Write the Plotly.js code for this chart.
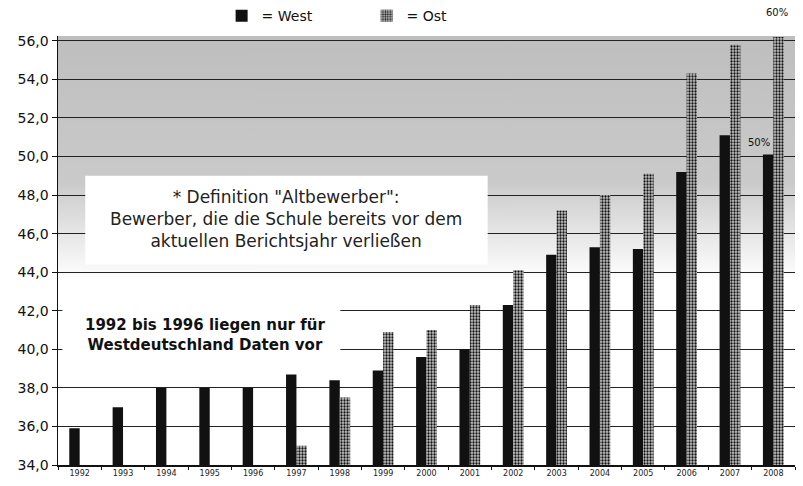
<!DOCTYPE html>
<html>
<head>
<meta charset="utf-8">
<script src="https://cdn.plot.ly/plotly-3.0.1.min.js"></script>
<style>html,body{margin:0;padding:0;background:#fff}#chart{width:803px;height:486px}</style>
</head>
<body>
<div id="chart"></div>
<script>
const years = ['1992','1993','1994','1995','1996','1997','1998','1999','2000','2001','2002','2003','2004','2005','2006','2007','2008'];
const westValues = [35.9, 37.0, 38.0, 38.0, 38.0, 38.7, 38.4, 38.9, 39.6, 40.0, 42.3, 44.9, 45.3, 45.2, 49.2, 51.1, 50.1];
const ostValues  = [null, null, null, null, null, 35.0, 37.5, 40.9, 41.0, 42.3, 44.1, 47.2, 48.0, 49.1, 54.3, 55.8, 56.2];
const yTickValues = [34, 36, 38, 40, 42, 44, 46, 48, 50, 52, 54, 56];
const yTickLabels = ['34,0','36,0','38,0','40,0','42,0','44,0','46,0','48,0','50,0','52,0','54,0','56,0'];
const seriesNames = ['= West', '= Ost'];
const definitionText = '* Definition "Altbewerber":<br>Bewerber, die die Schule bereits vor dem<br>aktuellen Berichtsjahr verließen';
const noteText = '1992 bis 1996 liegen nur für<br>Westdeutschland Daten vor';
const labelYear = '2008';

const yMin = 34, yMax = 56.25;
const lastIdx = years.indexOf(labelYear);

const svgBg = "<svg xmlns='http://www.w3.org/2000/svg' width='100' height='100' preserveAspectRatio='none'>" +
  "<defs><linearGradient id='g' x1='0' y1='0' x2='0' y2='1'>" +
  "<stop offset='0' stop-color='#bebebe'/><stop offset='0.6' stop-color='#cacaca'/><stop offset='1' stop-color='#ffffff'/>" +
  "</linearGradient></defs><rect width='100' height='100' fill='url(#g)'/></svg>";
const bgUri = 'data:image/svg+xml;charset=utf-8,' + encodeURIComponent(svgBg);

const traces = [
  {
    type: 'bar', x: years, y: westValues, name: seriesNames[0],
    marker: {color: '#111111', line: {width: 0}},
    hoverinfo: 'x+y'
  },
  {
    type: 'bar', x: years, y: ostValues, name: seriesNames[1],
    marker: {color: '#9a9a9a', line: {width: 0},
      pattern: {shape: '.', bgcolor: '#c4c4c4', fgcolor: '#111111', size: 3, solidity: 0.45, fillmode: 'replace'}},
    hoverinfo: 'x+y'
  }
];

const gapTop = 43.6;
const layout = {
  width: 803, height: 486,
  margin: {l: 58, r: 8, t: 36, b: 21},
  paper_bgcolor: '#ffffff', plot_bgcolor: '#ffffff',
  font: {family: 'DejaVu Sans, Arial, sans-serif', color: '#111'},
  barmode: 'group', bargap: 0.52, bargroupgap: 0,
  showlegend: true,
  legend: {orientation: 'h', x: 0.222, xanchor: 'left', yref: 'container', y: 0.967, yanchor: 'middle',
           font: {size: 14, family: 'DejaVu Sans, Arial, sans-serif', color: '#111'},
           entrywidth: 100, bgcolor: 'rgba(0,0,0,0)'},
  xaxis: {type: 'category', range: [-0.5, years.length - 0.5], autorange: false,
          showline: true, linecolor: '#111', linewidth: 1.5,
          ticks: 'outside', ticklen: 3, tickcolor: '#111', tickson: 'boundaries',
          tickfont: {size: 8, color: '#222'}, showgrid: false, fixedrange: true},
  yaxis: {range: [yMin, yMax], autorange: false, tickvals: yTickValues, ticktext: yTickLabels,
          showline: true, linecolor: '#111', linewidth: 1.5, ticks: 'outside', ticklen: 5, tickcolor: '#111',
          tickfont: {size: 14, color: '#111'}, showgrid: true, gridcolor: '#222', gridwidth: 1,
          zeroline: false, fixedrange: true},
  images: [{source: bgUri, xref: 'paper', yref: 'y', x: 0, y: yMax, sizex: 1, sizey: yMax - gapTop,
            sizing: 'stretch', xanchor: 'left', yanchor: 'top', layer: 'below'}],
  shapes: [
    {type: 'rect', xref: 'paper', yref: 'y', x0: 0.037, x1: 0.583, y0: 44.4, y1: 49.0,
     fillcolor: '#ffffff', line: {width: 0}, layer: 'above'},
    {type: 'rect', xref: 'paper', yref: 'y', x0: 0.006, x1: 0.383, y0: 39.2, y1: 42.15,
     fillcolor: '#ffffff', line: {width: 0}, layer: 'above'}
  ],
  annotations: [
    {text: definitionText, xref: 'paper', yref: 'y', x: 0.31, y: 46.75, showarrow: false,
     font: {size: 17, color: '#222'}, align: 'center', xanchor: 'center', yanchor: 'middle'},
    {text: noteText, xref: 'paper', yref: 'y', x: 0.20, y: 40.75, showarrow: false,
     font: {size: 15, color: '#111', weight: 'bold'}, align: 'center', xanchor: 'center', yanchor: 'middle'},
    {text: '60%', xref: 'x', yref: 'paper', x: lastIdx, xshift: 4, y: 1.055, showarrow: false,
     font: {size: 10, color: '#111'}, yanchor: 'middle'},
    {text: '50%', xref: 'x', yref: 'y', x: lastIdx, xshift: -14, y: 50.75, showarrow: false,
     font: {size: 10, color: '#111'}, yanchor: 'middle'}
  ]
};

Plotly.newPlot('chart', traces, layout, {displayModeBar: false, staticPlot: true});
</script>
</body>
</html>
